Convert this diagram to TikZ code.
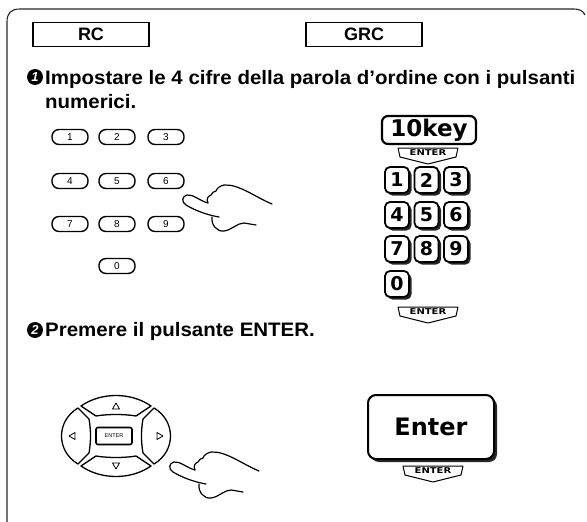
\documentclass[tikz,border=0pt]{standalone}
\usepackage{fontspec}
\setmainfont{Liberation Sans}
\newfontfamily\keyfont{DejaVu Sans}
\usepackage{tikz}
\usetikzlibrary{shadows}
\usetikzlibrary{positioning}
\tikzset{
    tnode/.style = {align=center, inner sep=0pt, text centered},
    remote_box/.style = {tnode, rectangle, draw=black, line width=1.1pt, minimum width=116pt, minimum height=24pt, font=\bfseries\fontsize{18}{18}\selectfont},
    step_num/.style = {tnode, circle, fill=black, text=white, minimum size=16pt, font=\bfseries\itshape\fontsize{13}{13}\selectfont},
    step_text/.style = {anchor=base west, inner sep=0pt, xscale=1.05, font=\bfseries\fontsize{19.5}{24}\selectfont},
    rc_key/.style = {tnode, rectangle, rounded corners=7pt, draw=black, line width=1.4pt, minimum width=36pt, minimum height=15pt, font=\fontsize{10}{10}\selectfont},
    grc_key/.style = {tnode, rectangle, rounded corners=5pt, draw=black, line width=1.8pt, fill=white, minimum width=24pt, minimum height=26pt, font=\keyfont\bfseries\fontsize{19}{19}\selectfont,
        drop shadow={shadow xshift=2.5pt, shadow yshift=-2.5pt, opacity=1, fill=black!85}},
    big_key/.style = {tnode, rectangle, draw=black, fill=white, line width=2.2pt},
    pad_key/.style = {draw=black, line width=1.3pt, line join=round},
    pad_mark/.style = {draw=black, line width=0.8pt, line join=round}
}
\tikzset{
    enter_tag/.pic = {
        \draw[line width=1pt, line join=round] (-30,0) -- (30,0) -- (28,9) -- (0,16) -- (-28,9) -- cycle;
        \node[tnode, xscale=1.25, font=\keyfont\bfseries\fontsize{8}{8}\selectfont] at (0,5) {ENTER};
    },
    pointer/.pic = {
        \draw[line width=1.2pt, line cap=round, line join=round]
            (25,4) .. controls (17,2) and (10,-5) .. (4,-4) .. controls (-1,-3) and (-2,3) .. (3,6)
            .. controls (11,11) and (24,16) .. (36,18);
        \draw[line width=1.2pt, line cap=round, line join=round]
            (25,4) .. controls (23,0) and (25,-3) .. (28,-4) .. controls (29,-6) and (31,-8) .. (33,-8)
            .. controls (34,-11) and (37,-13) .. (41,-14) .. controls (56,-15) and (72,-2) .. (89,5);
        \draw[line width=1.2pt, line cap=round, line join=round]
            (29,18) .. controls (28,26) and (34,33) .. (41,32) .. controls (49,31) and (54,24) .. (61,24) -- (73,26);
    }
}
\begin{document}
\begin{tikzpicture}[x=1pt, y=-1pt]
    \useasboundingbox (0,0) rectangle (587,522);
    % open frame
    \draw[black!85, line width=1.1pt] (7,522) -- (7,22) .. controls (7,13) and (11,9) .. (20,9)
        -- (574,9) .. controls (580,9) and (583,11) .. (585,15);

    \node[remote_box] (rc) at (91,34.5) {RC};
    \node[remote_box] (grc) at (364,34.5) {GRC};

    % step 1
    \node[step_num] (s1) at (35,77) {1};
    \node[step_text] (t1a) at (45,84) {Impostare le 4 cifre della parola d’ordine con i pulsanti};
    \node[step_text] (t1b) at (45,108) {numerici.};

    % RC keypad
    \foreach \d/\x/\y in {1/70/137, 2/117/137, 3/166/137, 4/70/181, 5/117/181, 6/166/181,
                          7/70/224, 8/117/224, 9/166/224, 0/117/266}
        \node[rc_key] (rc\d) at (\x,\y) {\d};
    \pic at (183,199) {pointer};

    % GRC keypad
    \node[big_key, rounded corners=6pt, minimum width=94pt, minimum height=28pt,
          font=\keyfont\bfseries\fontsize{23}{23}\selectfont] (tenkey) at (429,130) {10key};
    \pic at (428,148) {enter_tag};
    \foreach \d/\x/\y in {1/397/180, 2/426.5/180, 3/456/180, 4/397/215, 5/426.5/215, 6/456/215,
                          7/397/249, 8/426.5/249, 9/456/249, 0/397/284}
        \node[grc_key] (grc\d) at (\x,\y) {\d};
    \pic at (428,307) {enter_tag};

    % step 2
    \node[step_num] (s2) at (35,330) {2};
    \node[step_text] (t2) at (45,336) {Premere il pulsante ENTER.};

    % cursor pad
    \begin{scope}[shift={(116,436)}]
        \draw[pad_key] (-20,-20) -- (-35,-30) .. controls (-15,-44) and (15,-44) .. (35,-30)
            -- (20,-20) .. controls (8,-22) and (-8,-22) .. cycle;
        \draw[pad_key, yscale=-1] (-20,-20) -- (-35,-30) .. controls (-15,-44) and (15,-44) .. (35,-30)
            -- (20,-20) .. controls (8,-22) and (-8,-22) .. cycle;
        \draw[pad_key] (-27,-17) -- (-38,-28) .. controls (-60,-15) and (-60,15) .. (-38,28)
            -- (-27,17) .. controls (-25,6) and (-25,-6) .. cycle;
        \draw[pad_key, xscale=-1] (-27,-17) -- (-38,-28) .. controls (-60,-15) and (-60,15) .. (-38,28)
            -- (-27,17) .. controls (-25,6) and (-25,-6) .. cycle;
        \draw[pad_mark] (-3.5,-27) -- (3.5,-27) -- (0,-33) -- cycle;
        \draw[pad_mark] (-3.5,27) -- (3.5,27) -- (0,33) -- cycle;
        \draw[pad_mark] (-41,-3.5) -- (-41,3.5) -- (-47,0) -- cycle;
        \draw[pad_mark] (41,-3.5) -- (41,3.5) -- (47,0) -- cycle;
        \node[tnode, draw=black, line width=1.6pt, rounded corners=2pt, minimum width=36pt, minimum height=17pt,
              font=\fontsize{5.5}{5.5}\selectfont] (pad_enter) at (-2,0) {ENTER};
    \end{scope}
    \pic at (170,466) {pointer};

    % GRC enter key
    \node[big_key, rounded corners=8pt, line width=2pt, minimum width=126pt, minimum height=64pt,
          drop shadow={shadow xshift=3pt, shadow yshift=-3pt, opacity=1, fill=black!85},
          font=\keyfont\bfseries\fontsize{24}{24}\selectfont] (enter) at (431,427) {Enter};
    \pic at (433,466) {enter_tag};
\end{tikzpicture}
\end{document}
